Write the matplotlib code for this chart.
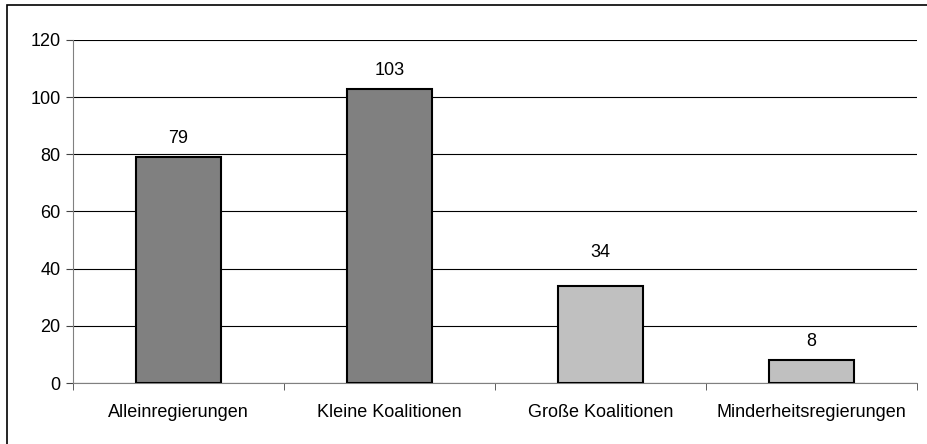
import matplotlib
matplotlib.use("Agg")
import matplotlib.pyplot as plt
from matplotlib.patches import Rectangle

categories = ["Alleinregierungen", "Kleine Koalitionen", "Große Koalitionen", "Minderheitsregierungen"]
values = [79, 103, 34, 8]
bar_colors = ["#808080", "#808080", "#c0c0c0", "#c0c0c0"]
y_ticks = [0, 20, 40, 60, 80, 100, 120]

plt.rcParams["font.family"] = ["Liberation Sans", "DejaVu Sans"]

fig = plt.figure(figsize=(9.28, 4.44), dpi=100)
ax = fig.add_axes([73 / 928, 61 / 444, 844 / 928, 343 / 444])

x = list(range(len(categories)))
ax.bar(x, values, width=0.4, color=bar_colors, edgecolor="black", linewidth=1.5, zorder=3)

# value labels sit above each bar; the third one is lifted clear of the 40 gridline
label_lift = [6.5, 6.5, 11.5, 6.5]
for xi, v, lift in zip(x, values, label_lift):
    ax.text(xi, v + lift, str(v), ha="center", va="center", fontsize=13)

ax.set_xlim(-0.5, len(categories) - 0.5)
ax.set_ylim(0, 120)
ax.set_yticks(y_ticks)
ax.set_yticklabels([str(t) for t in y_ticks], fontsize=13)
ax.yaxis.grid(True, color="black", linewidth=0.8, zorder=0)
ax.set_axisbelow(True)

# category labels between boundary ticks
ax.set_xticks(x)
ax.set_xticklabels(categories, fontsize=13)
ax.tick_params(axis="x", length=0, pad=15)
ax.set_xticks([i - 0.5 for i in range(len(categories) + 1)], minor=True)
ax.tick_params(axis="x", which="minor", length=5, direction="out", color="#444444")
ax.tick_params(axis="y", length=5, direction="out", color="#444444", pad=4)

for side in ["top", "right"]:
    ax.spines[side].set_visible(False)
ax.spines["left"].set_color("#808080")
ax.spines["bottom"].set_color("#808080")

# outer frame: only its top and left edges fall inside the image
fig.patches.append(Rectangle((7 / 928, -20 / 444), 940 / 928, 459 / 444,
                             transform=fig.transFigure, fill=False,
                             edgecolor="black", linewidth=1.2))

fig.savefig("out.png", dpi=100)
